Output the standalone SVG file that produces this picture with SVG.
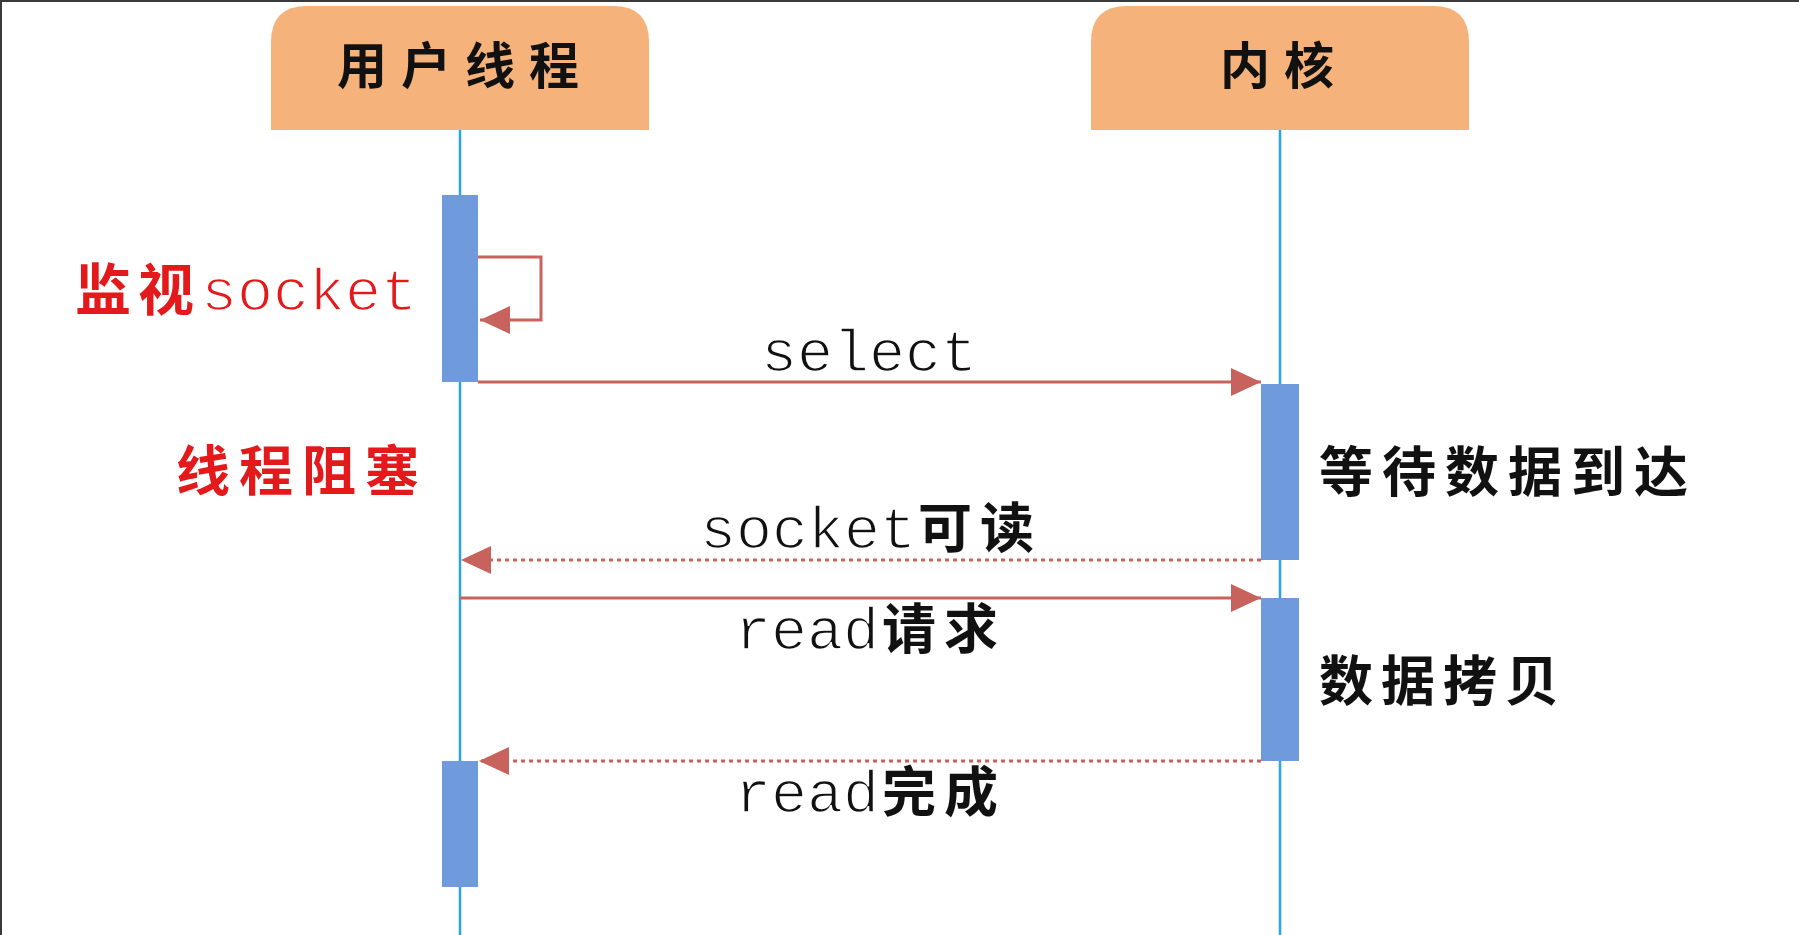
<svg xmlns="http://www.w3.org/2000/svg" width="1799" height="935" viewBox="0 0 1799 935">
<style>
.hdr{fill:#F5B27A}
.life{stroke:#2BA5E0;stroke-width:2.5;fill:none}
.act{fill:#6F9BDC}
.msg{stroke:#C8625C;stroke-width:3;fill:none}
.dot{stroke:#C8625C;stroke-width:3;fill:none;stroke-dasharray:4 4}
.cjk{font-family:"Noto Sans CJK SC","Noto Sans CJK JP",sans-serif;font-weight:700}
.mono{font-family:"Liberation Mono","Courier New",monospace;font-weight:400;stroke:#FFFFFF;stroke-width:1.6}
.blk{fill:#111}
.red{fill:#E3191B}
</style>
<defs>
<marker id="ah" markerUnits="userSpaceOnUse" markerWidth="30" markerHeight="28" viewBox="0 0 30 28" refX="30" refY="14" orient="auto">
<path d="M0,0 L30,14 L0,28 Z" fill="#C8625C"/>
</marker>
</defs>
<rect x="0" y="0" width="1799" height="935" fill="#FFFFFF"/>
<rect x="0" y="0" width="1799" height="2" fill="#3A3A3A"/>
<rect x="0" y="0" width="2" height="935" fill="#3A3A3A"/>

<g id="lifelines">
<line class="life" x1="460" y1="130" x2="460" y2="935"/>
<line class="life" x1="1280" y1="130" x2="1280" y2="935"/>
</g>

<g id="user-thread">
<path class="hdr" d="M271,130 V42 Q271,6 307,6 H613 Q649,6 649,42 V130 Z"/>
<text class="cjk blk" x="337" y="84" font-size="50" letter-spacing="14">用户线程</text>
</g>
<g id="kernel">
<path class="hdr" d="M1091,130 V42 Q1091,6 1127,6 H1433 Q1469,6 1469,42 V130 Z"/>
<text class="cjk blk" x="1220" y="84" font-size="50" letter-spacing="14">内核</text>
</g>

<g id="activations">
<rect class="act" x="442" y="195" width="36" height="187"/>
<rect class="act" x="1261" y="384" width="38" height="176"/>
<rect class="act" x="1261" y="598" width="38" height="163"/>
<rect class="act" x="442" y="761" width="36" height="126"/>
</g>

<g id="connectors">
<path class="msg" d="M478,257 H541 V320 H480" marker-end="url(#ah)"/>
<line class="msg" x1="478" y1="382" x2="1261" y2="382" marker-end="url(#ah)"/>
<line class="dot" x1="1261" y1="560" x2="461" y2="560" marker-end="url(#ah)"/>
<line class="msg" x1="460" y1="598" x2="1261" y2="598" marker-end="url(#ah)"/>
<line class="dot" x1="1261" y1="761" x2="479" y2="761" marker-end="url(#ah)"/>
</g>

<g id="labels">
<text x="75" y="310" font-size="60"><tspan class="cjk red" font-size="56" letter-spacing="7">监视</tspan><tspan class="mono red" x="201">socket</tspan></text>
<text class="mono blk" x="761" y="371" font-size="60">select</text>
<text class="cjk red" x="176" y="491" font-size="54" letter-spacing="9">线程阻塞</text>
<text class="cjk blk" x="1319" y="492" font-size="54" letter-spacing="9">等待数据到达</text>
<text x="700" y="548" font-size="60"><tspan class="mono blk">socket</tspan><tspan class="cjk blk" x="918" font-size="54" letter-spacing="8">可读</tspan></text>
<text x="735" y="649" font-size="60"><tspan class="mono blk">read</tspan><tspan class="cjk blk" x="882" font-size="54" letter-spacing="8">请求</tspan></text>
<text class="cjk blk" x="1319" y="701" font-size="54" letter-spacing="8">数据拷贝</text>
<text x="735" y="812" font-size="60"><tspan class="mono blk">read</tspan><tspan class="cjk blk" x="882" font-size="54" letter-spacing="8">完成</tspan></text>
</g>
</svg>
